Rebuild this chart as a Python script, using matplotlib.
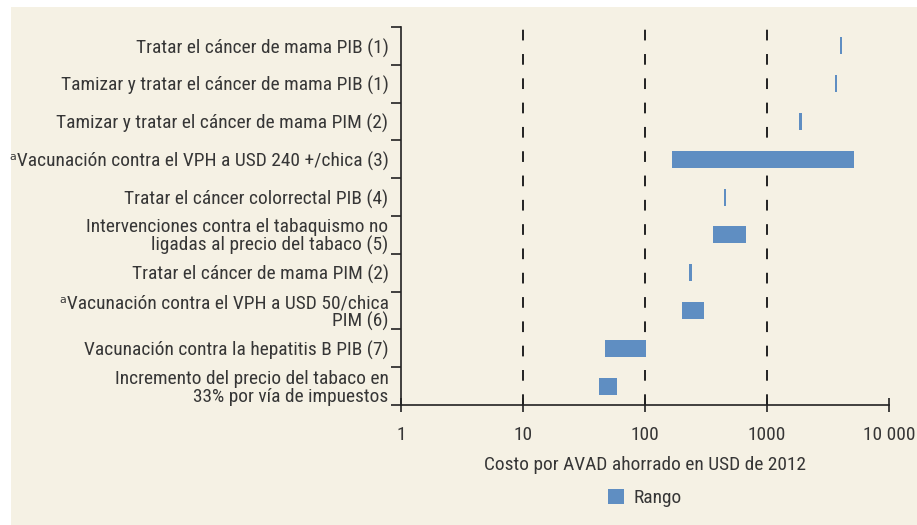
import matplotlib
matplotlib.use("Agg")
import matplotlib.pyplot as plt
from matplotlib.patches import Rectangle, Patch
from matplotlib import font_manager as fm
import numpy as np

categories = [
    "Tratar el cáncer de mama PIB (1)",
    "Tamizar y tratar el cáncer de mama PIB (1)",
    "Tamizar y tratar el cáncer de mama PIM (2)",
    "ᵃVacunación contra el VPH a USD 240 +/chica (3)",
    "Tratar el cáncer colorrectal PIB (4)",
    "Intervenciones contra el tabaquismo no\nligadas al precio del tabaco (5)",
    "Tratar el cáncer de mama PIM (2)",
    "ᵃVacunación contra el VPH a USD 50/chica\nPIM (6)",
    "Vacunación contra la hepatitis B PIB (7)",
    "Incremento del precio del tabaco en\n33% por vía de impuestos",
]
range_low = [3950, 3600, 1840, 166, 440, 360, 230, 200, 47, 42]
range_high = [4150, 3780, 1950, 5150, 465, 675, 244, 305, 101, 59]
xticks = [1, 10, 100, 1000, 10000]
xtick_labels = ["1", "10", "100", "1000", "10 000"]
gridlines = [10, 100, 1000]

# ---- pick a condensed sans font if one is installed ----
def pick_font():
    cands = []
    for f in fm.fontManager.ttflist:
        nm = f.name.lower()
        st = f.stretch
        cond = ("narrow" in nm or "condensed" in nm or
                st in ("condensed", "semi-condensed", "extra-condensed", "ultra-condensed") or
                (isinstance(st, (int, float)) and st < 500))
        if not cond or "serif" in nm and "sans" not in nm or "mono" in nm:
            continue
        if f.style != "normal":
            continue
        w = f.weight if isinstance(f.weight, (int, float)) else {"normal": 400, "regular": 400}.get(str(f.weight), 500)
        if w not in (400, "normal", "regular"):
            continue
        pref = 0
        for i, key in enumerate(["liberation sans narrow", "roboto condensed", "open sans condensed",
                                 "noto sans", "dejavu sans"]):
            if key in nm:
                pref = 10 - i
        cands.append((pref, f.name, st))
    if cands:
        cands.sort(key=lambda c: -c[0])
        return cands[0][1], cands[0][2]
    return "DejaVu Sans", "normal"

fam, stretch = pick_font()
plt.rcParams['font.family'] = [fam, 'DejaVu Sans']
plt.rcParams['font.stretch'] = stretch

bg = "#f5f1e4"
bar_color = "#5f8ec2"
text_color = "#363636"

fig = plt.figure(figsize=(9.17, 5.25), dpi=100)
fig.patch.set_facecolor("white")
fig.add_artist(Rectangle((11/917, 0), 1 - 11/917, 1 - 7/525, transform=fig.transFigure,
                         facecolor=bg, edgecolor="none", zorder=-10))

# size text so a reference label spans the same width as in the source (~249 px)
renderer = fig.canvas.get_renderer()
probe = fig.text(0, 0, categories[0], fontsize=10)
wpx = probe.get_window_extent(renderer).width
probe.remove()
fs = 10 * 250 / wpx

ax = fig.add_axes([401/917, 1 - 405/525, (889 - 401)/917, (405 - 27)/525])
ax.set_facecolor("none")

n = len(categories)
ypos = np.arange(n)
low = np.array(range_low, dtype=float)
high = np.array(range_high, dtype=float)
ax.barh(ypos, high - low, left=low, height=0.45, color=bar_color, zorder=3)

ax.set_xscale("log")
ax.set_xlim(1, 10000)
ax.set_ylim(n - 0.5, -0.5)

for g in gridlines:
    ax.axvline(g, color="#222222", lw=1.4, ls=(0, (5.5, 7)), zorder=1)

ax.set_xticks(xticks)
ax.set_xticklabels(xtick_labels)
ax.xaxis.set_minor_locator(matplotlib.ticker.NullLocator())
ax.tick_params(axis="x", direction="inout", length=10, width=1.2, colors="#222222",
               labelcolor=text_color, labelsize=fs, pad=10)

ax.set_yticks(np.arange(n + 1) - 0.5)
ax.set_yticklabels([])
ax.set_yticks(ypos, minor=True)
ax.set_yticklabels(categories, minor=True, linespacing=0.98)
ax.tick_params(axis="y", which="major", direction="out", length=7, width=1.2, colors="#222222")
ax.tick_params(axis="y", which="minor", length=0, pad=9, labelsize=fs, labelcolor=text_color)

for s in ["top", "right"]:
    ax.spines[s].set_visible(False)
for s in ["left", "bottom"]:
    ax.spines[s].set_color("#222222")
    ax.spines[s].set_linewidth(1.2)

ax.set_xlabel("Costo por AVAD ahorrado en USD de 2012", fontsize=fs, color=text_color, labelpad=9)

fig.legend(handles=[Patch(facecolor=bar_color, edgecolor="none", label="Rango")],
           loc="center", bbox_to_anchor=(645/917, 1 - 498/525), frameon=False,
           fontsize=fs, handlelength=0.8, handleheight=0.8, handletextpad=0.5,
           labelcolor=text_color)

fig.savefig("out.png", dpi=100, facecolor=fig.get_facecolor())
